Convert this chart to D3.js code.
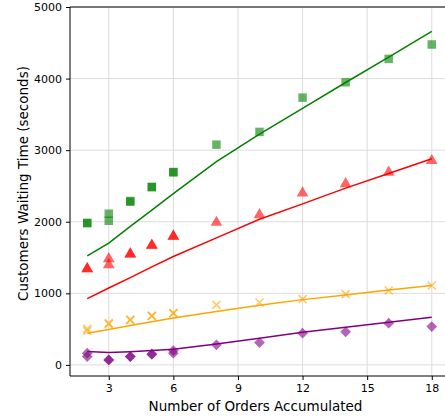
<!DOCTYPE html>
<html>
<head>
<meta charset="utf-8">
<script src="https://cdn.jsdelivr.net/npm/d3@7"></script>
<style>
  body { margin: 0; background: #fff; }
  svg { display: block; font-family: "DejaVu Sans", sans-serif; }
</style>
</head>
<body>
<div class="center"></div>
<script>
// fitted lines (one value per x)
const lineX = [2, 3, 4, 5, 6, 8, 10, 12, 14, 16, 18];
const greenLine  = [1524, 1702, 1936, 2163, 2394, 2840, 3225, 3585, 3945, 4300, 4660];
const redLine    = [925, 1075, 1220, 1369, 1515, 1775, 2035, 2250, 2470, 2675, 2880];
const orangeLine = [443, 495, 549, 602, 654, 745, 835, 912, 975, 1045, 1109];
const purpleLine = [186, 172, 185, 202, 220, 292, 373, 457, 527, 597, 667];

// measured points (two runs for the small x values)
const pointX = [2, 2, 3, 3, 4, 4, 5, 5, 6, 6, 8, 10, 12, 14, 16, 18];
const greenPts  = [1982, 1982, 2112, 2014, 2280, 2290, 2485, 2485, 2695, 2690, 3077, 3255, 3734, 3948, 4275, 4476];
const redPts    = [1343, 1343, 1483, 1399, 1548, 1548, 1669, 1669, 1795, 1795, 1990, 2098, 2401, 2531, 2690, 2853];
const orangePts = [503, 475, 583, 570, 629, 629, 685, 685, 723, 723, 839, 871, 919, 989, 1039, 1109];
const purplePts = [164, 116, 70, 70, 116, 116, 150, 150, 200, 164, 280, 312, 443, 462, 583, 536];

const xTicks = [3, 6, 9, 12, 15, 18];
const yTicks = [0, 1000, 2000, 3000, 4000, 5000];

const W = 445, H = 417;
const margin = {top: 7, right: -4, bottom: 41, left: 70};
const width = W - margin.left - margin.right;
const height = H - margin.top - margin.bottom;

const xScale = d3.scaleLinear().domain([1.2, 18.8]).range([0, width]);
const yScale = d3.scaleLinear().domain([-155, 5000]).range([height, 0]);

const svg = d3.select(".center").append("svg")
    .attr("width", W)
    .attr("height", H)
  .append("g")
    .attr("transform", `translate(${margin.left},${margin.top})`);

// grid
svg.append("g").selectAll("line")
    .data(xTicks).enter().append("line")
    .attr("x1", d => xScale(d)).attr("x2", d => xScale(d))
    .attr("y1", 0).attr("y2", height)
    .style("stroke", "#dcdcdc").style("stroke-width", 1);
svg.append("g").selectAll("line")
    .data(yTicks).enter().append("line")
    .attr("y1", d => yScale(d)).attr("y2", d => yScale(d))
    .attr("x1", 0).attr("x2", width)
    .style("stroke", "#dcdcdc").style("stroke-width", 1);

const series = [
  {pts: greenPts,  line: greenLine,  color: "green",  shape: "square"},
  {pts: redPts,    line: redLine,    color: "red",    shape: "triangle"},
  {pts: orangePts, line: orangeLine, color: "orange", shape: "x"},
  {pts: purplePts, line: purpleLine, color: "purple", shape: "diamond"}
];

const symbolFor = {
  square: d3.symbol().type(d3.symbolSquare).size(72),
  triangle: d3.symbol().type(d3.symbolTriangle).size(60),
  diamond: d3.symbol().type(d3.symbolSquare).size(58)
};

series.forEach(s => {
  const pts = pointX.map((x, i) => [x, s.pts[i]]);
  const g = svg.append("g");
  if (s.shape === "x") {
    g.selectAll("path").data(pts).enter().append("path")
      .attr("transform", d => `translate(${xScale(d[0])},${yScale(d[1])})`)
      .attr("d", "M-4,-4L4,4M-4,4L4,-4")
      .style("stroke", s.color).style("stroke-width", 1.6)
      .style("fill", "none").style("opacity", 0.6);
  } else {
    const rot = s.shape === "diamond" ? " rotate(45)" : "";
    g.selectAll("path").data(pts).enter().append("path")
      .attr("transform", d => `translate(${xScale(d[0])},${yScale(d[1])})${rot}`)
      .attr("d", symbolFor[s.shape])
      .style("fill", s.color).style("opacity", 0.6);
  }
});

const valueline = d3.line()
    .x((d, i) => xScale(lineX[i]))
    .y(d => yScale(d));

series.forEach(s => {
  svg.append("path")
    .datum(s.line)
    .attr("d", valueline)
    .style("fill", "none")
    .style("stroke", s.color)
    .style("stroke-width", 1.5);
});

// axes
const xAxis = d3.axisBottom(xScale).tickValues(xTicks).tickSize(4).tickPadding(4);
const yAxis = d3.axisLeft(yScale).tickValues(yTicks).tickSize(4).tickPadding(4)
    .tickFormat(d3.format("d"));

const gx = svg.append("g")
    .attr("transform", "translate(0," + height + ")")
    .call(xAxis);
const gy = svg.append("g").call(yAxis);

[gx, gy].forEach(g => {
  g.selectAll("text").style("font-size", "11px").style("font-family", "DejaVu Sans, sans-serif").style("fill", "#000");
  g.selectAll("line").style("stroke", "#000");
  g.select(".domain").remove();
});

// spines
svg.append("line").attr("x1", 0).attr("x2", 0).attr("y1", 0).attr("y2", height)
    .style("stroke", "#000").style("stroke-width", 1);
svg.append("line").attr("x1", 0).attr("x2", width).attr("y1", height).attr("y2", height)
    .style("stroke", "#000").style("stroke-width", 1);
svg.append("line").attr("x1", 0).attr("x2", width).attr("y1", 0).attr("y2", 0)
    .style("stroke", "#000").style("stroke-width", 1);

// labels
svg.append("text")
    .attr("x", (xScale(1.2) + xScale(18.8)) / 2 - 4)
    .attr("y", height + 35)
    .attr("text-anchor", "middle")
    .style("font-size", "13.5px")
    .text("Number of Orders Accumulated");

svg.append("text")
    .attr("transform", "rotate(-90)")
    .attr("x", -(height / 2) + 8)
    .attr("y", -42)
    .attr("text-anchor", "middle")
    .style("font-size", "13.5px")
    .text("Customers Waiting Time (seconds)");
</script>
</body>
</html>
